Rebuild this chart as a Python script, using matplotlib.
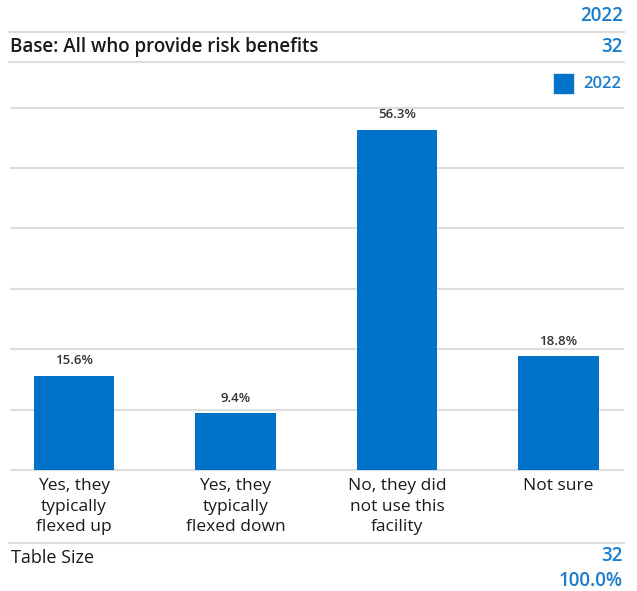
import matplotlib.pyplot as plt
from matplotlib.lines import Line2D

categories = ['Yes, they\ntypically\nflexed up', 'Yes, they\ntypically\nflexed down',
              'No, they did\nnot use this\nfacility', 'Not sure']
values_2022 = [15.6, 9.4, 56.3, 18.8]
series_name = '2022'
base_label = 'Base: All who provide risk benefits'
base_n = '32'
table_size = '32'
table_pct = '100.0%'

blue = '#0073c9'
text_blue = '#1a7ccc'
grey = '#dddddd'
dark = '#1a1a1a'

plt.rcParams['font.family'] = ['Open Sans', 'DejaVu Sans']

W, H = 637, 591
fig = plt.figure(figsize=(W / 100, H / 100), dpi=100)


def fx(px):
    return px / W


def fy(py):
    return 1 - py / H


def hline(y, x0=9, x1=624):
    fig.add_artist(Line2D([fx(x0), fx(x1)], [fy(y), fy(y)], color=grey, lw=1.5))


# header rows
fig.text(fx(623), fy(16), series_name, color=text_blue, fontsize=13.5, fontweight='semibold',
         ha='right', va='center')
hline(31.5)
fig.text(fx(10), fy(47), base_label, color=dark, fontsize=13.5, fontweight='semibold',
         ha='left', va='center')
fig.text(fx(623), fy(47), base_n, color=text_blue, fontsize=13.5, fontweight='semibold',
         ha='right', va='center')
hline(61.5)

# legend
fig.add_artist(plt.Rectangle((fx(554), fy(93)), fx(19), 19 / H, color=blue))
fig.text(fx(621), fy(84), series_name, color=text_blue, fontsize=12, fontweight='semibold',
         ha='right', va='center')

# chart
ax = fig.add_axes([fx(11), fy(470), fx(612), (470 - 107.5) / H])
x = range(len(categories))
bars = ax.bar(x, values_2022, width=0.5, color=blue, zorder=3)
for b, v in zip(bars, values_2022):
    ax.text(b.get_x() + b.get_width() / 2, v + 1.4, f'{v:.1f}%', ha='center', va='bottom',
            fontsize=9.5, color='#333333', fontweight='semibold')

ax.set_xlim(-0.39, 3.40)
ax.set_ylim(0, 60)
ax.set_yticks(range(0, 61, 10))
ax.yaxis.grid(True, color=grey, lw=1.5, zorder=0)
for t in ax.yaxis.get_gridlines():
    t.set_clip_on(False)
ax.set_yticklabels([])
ax.tick_params(axis='both', length=0)
ax.set_xticks(list(x))
ax.set_xticklabels(categories, fontsize=12.5, color=dark, linespacing=1.35)
ax.tick_params(axis='x', pad=6)
for s in ax.spines.values():
    s.set_visible(False)

# footer
hline(542.5)
fig.text(fx(11), fy(558), 'Table Size', color=dark, fontsize=13, ha='left', va='center')
fig.text(fx(623), fy(556), table_size, color=text_blue, fontsize=13.5, fontweight='semibold',
         ha='right', va='center')
fig.text(fx(623), fy(581), table_pct, color=text_blue, fontsize=13.5, fontweight='semibold',
         ha='right', va='center')

fig.savefig('out.png', dpi=100)
